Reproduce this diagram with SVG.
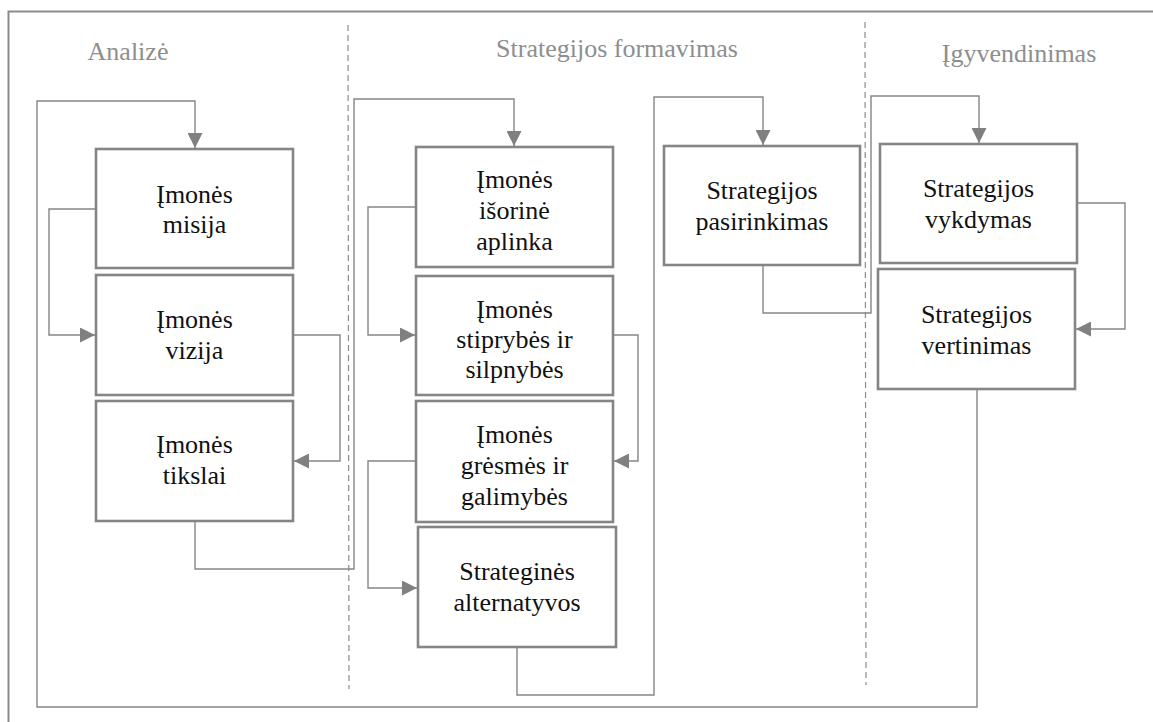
<svg xmlns="http://www.w3.org/2000/svg" width="1153" height="722" viewBox="0 0 1153 722">
<style>
.bg{fill:#fff}
.frame{fill:none;stroke:#8a8a8a;stroke-width:2}
.div{fill:none;stroke:#8c8c8c;stroke-width:1.2;stroke-dasharray:6,4}
.box{fill:#fff;stroke:#858585;stroke-width:2.6}
.c{fill:none;stroke:#858585;stroke-width:1.4}
.t{font-family:"Liberation Serif","Times New Roman",serif;font-size:26px;fill:#111;text-anchor:middle}
.h{font-family:"Liberation Serif","Times New Roman",serif;font-size:26px;fill:#8e8e8e;text-anchor:middle}
</style>
<defs>
<marker id="ah" viewBox="0 0 10 10" refX="10" refY="5" markerWidth="15" markerHeight="15" markerUnits="userSpaceOnUse" orient="auto">
<path d="M0,0 L10,5 L0,10 Z" fill="#808080"/>
</marker>
</defs>
<rect class="bg" x="0" y="0" width="1153" height="722"/>
<path class="frame" d="M8.5,722 V11.5 H1153"/>
<g id="dividers">
<line class="div" x1="348" y1="25" x2="349" y2="689"/>
<line class="div" x1="865" y1="22" x2="866" y2="685"/>
</g>
<g id="headers">
<text class="h" x="128" y="60">Analizė</text>
<text class="h" x="617" y="57">Strategijos formavimas</text>
<text class="h" x="1019" y="62">Įgyvendinimas</text>
</g>
<g id="connectors">
<path class="c" marker-end="url(#ah)" d="M977,389 V707 H37 V101 H195 V148"/>
<path class="c" marker-end="url(#ah)" d="M96,209 H49 V335 H95"/>
<path class="c" marker-end="url(#ah)" d="M293,335 H340 V461 H294"/>
<path class="c" marker-end="url(#ah)" d="M195,521 V569 H354 V99 H514 V146"/>
<path class="c" marker-end="url(#ah)" d="M416,207 H368 V335 H415"/>
<path class="c" marker-end="url(#ah)" d="M613,335 H638 V461 H614"/>
<path class="c" marker-end="url(#ah)" d="M416,461 H368 V588 H417"/>
<path class="c" marker-end="url(#ah)" d="M517,647 V695 H654 V97 H763 V145"/>
<path class="c" marker-end="url(#ah)" d="M763,265 V313 H871 V96 H979 V143"/>
<path class="c" marker-end="url(#ah)" d="M1077,203 H1125 V329 H1076"/>
</g>
<g id="n1"><rect class="box" x="96" y="149" width="197" height="119"/><text class="t" x="194.5" y="203">Įmonės</text><text class="t" x="194.5" y="233">misija</text></g>
<g id="n2"><rect class="box" x="96" y="275" width="197" height="120"/><text class="t" x="194.5" y="328">Įmonės</text><text class="t" x="194.5" y="359">vizija</text></g>
<g id="n3"><rect class="box" x="96" y="401" width="197" height="120"/><text class="t" x="194.5" y="453">Įmonės</text><text class="t" x="194.5" y="484">tikslai</text></g>
<g id="n4"><rect class="box" x="416" y="147" width="197" height="120"/><text class="t" x="514.5" y="188">Įmonės</text><text class="t" x="514.5" y="219">išorinė</text><text class="t" x="514.5" y="250">aplinka</text></g>
<g id="n5"><rect class="box" x="416" y="276" width="197" height="119"/><text class="t" x="514.5" y="318">Įmonės</text><text class="t" x="514.5" y="348">stiprybės ir</text><text class="t" x="514.5" y="378">silpnybės</text></g>
<g id="n6"><rect class="box" x="416" y="401" width="197" height="121"/><text class="t" x="514.5" y="443">Įmonės</text><text class="t" x="514.5" y="474">grėsmės ir</text><text class="t" x="514.5" y="505">galimybės</text></g>
<g id="n7"><rect class="box" x="418" y="527" width="198" height="120"/><text class="t" x="517" y="580">Strateginės</text><text class="t" x="517" y="611">alternatyvos</text></g>
<g id="n8"><rect class="box" x="664" y="146" width="196" height="119"/><text class="t" x="762" y="199">Strategijos</text><text class="t" x="762" y="230">pasirinkimas</text></g>
<g id="n9"><rect class="box" x="880" y="144" width="197" height="119"/><text class="t" x="978.5" y="197">Strategijos</text><text class="t" x="978.5" y="228">vykdymas</text></g>
<g id="n10"><rect class="box" x="878" y="269" width="197" height="120"/><text class="t" x="976.5" y="323">Strategijos</text><text class="t" x="976.5" y="354">vertinimas</text></g>
</svg>
